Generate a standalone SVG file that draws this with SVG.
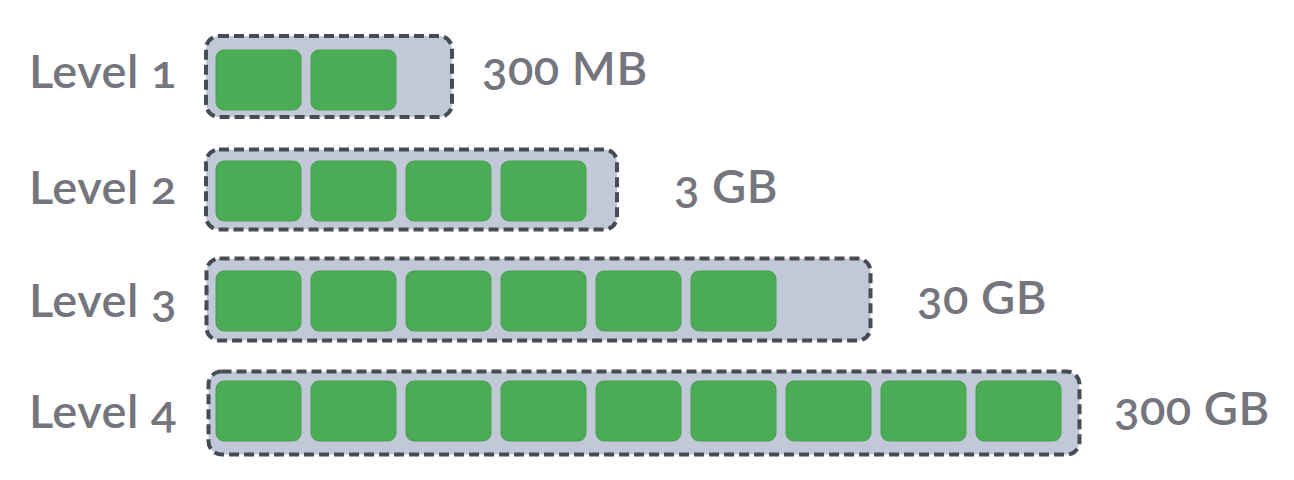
<svg xmlns="http://www.w3.org/2000/svg" width="1294" height="480" viewBox="0 0 1294 480">
  <style>
    .bg { fill: #ffffff; }
    .container { fill: #c1c9d8; stroke: #474b53; stroke-width: 4; stroke-dasharray: 10 5; }
    .block { fill: #4cab55; stroke: #46a04f; stroke-width: 1; }
    .label { font-family: Lato, "Open Sans", "Liberation Sans", sans-serif; font-size: 47px; font-weight: 600; fill: #74757d; font-feature-settings: "onum" 1; font-variant-numeric: oldstyle-nums; letter-spacing: 0.5px; }
  </style>
  <rect class="bg" x="0" y="0" width="1294" height="480"/>

  <g id="level1">
    <text class="label" x="29" y="88">Level 1</text>
    <rect class="container" x="206" y="36" width="246" height="81" rx="13"/>
    <rect class="block" x="216" y="50" width="85" height="60" rx="8"/>
    <rect class="block" x="311" y="50" width="85" height="60" rx="8"/>
    <text class="label" x="482" y="85">300 MB</text>
  </g>

  <g id="level2">
    <text class="label" x="29" y="204">Level 2</text>
    <rect class="container" x="206" y="149.5" width="411" height="80" rx="13"/>
    <rect class="block" x="216" y="161" width="85" height="60" rx="8"/>
    <rect class="block" x="311" y="161" width="85" height="60" rx="8"/>
    <rect class="block" x="406" y="161" width="85" height="60" rx="8"/>
    <rect class="block" x="501" y="161" width="85" height="60" rx="8"/>
    <text class="label" x="674" y="203">3 GB</text>
  </g>

  <g id="level3">
    <text class="label" x="29" y="317">Level 3</text>
    <rect class="container" x="206.5" y="258.5" width="664" height="82" rx="13"/>
    <rect class="block" x="216" y="271" width="85" height="60" rx="8"/>
    <rect class="block" x="311" y="271" width="85" height="60" rx="8"/>
    <rect class="block" x="406" y="271" width="85" height="60" rx="8"/>
    <rect class="block" x="501" y="271" width="85" height="60" rx="8"/>
    <rect class="block" x="596" y="271" width="85" height="60" rx="8"/>
    <rect class="block" x="691" y="271" width="85" height="60" rx="8"/>
    <text class="label" x="917" y="314">30 GB</text>
  </g>

  <g id="level4">
    <text class="label" x="29" y="428">Level 4</text>
    <rect class="container" x="208.5" y="371.5" width="871" height="83" rx="13"/>
    <rect class="block" x="216" y="381" width="85" height="60" rx="8"/>
    <rect class="block" x="311" y="381" width="85" height="60" rx="8"/>
    <rect class="block" x="406" y="381" width="85" height="60" rx="8"/>
    <rect class="block" x="501" y="381" width="85" height="60" rx="8"/>
    <rect class="block" x="596" y="381" width="85" height="60" rx="8"/>
    <rect class="block" x="691" y="381" width="85" height="60" rx="8"/>
    <rect class="block" x="786" y="381" width="85" height="60" rx="8"/>
    <rect class="block" x="881" y="381" width="85" height="60" rx="8"/>
    <rect class="block" x="976" y="381" width="85" height="60" rx="8"/>
    <text class="label" x="1114" y="425">300 GB</text>
  </g>

  <g id="connectors"></g>
</svg>
